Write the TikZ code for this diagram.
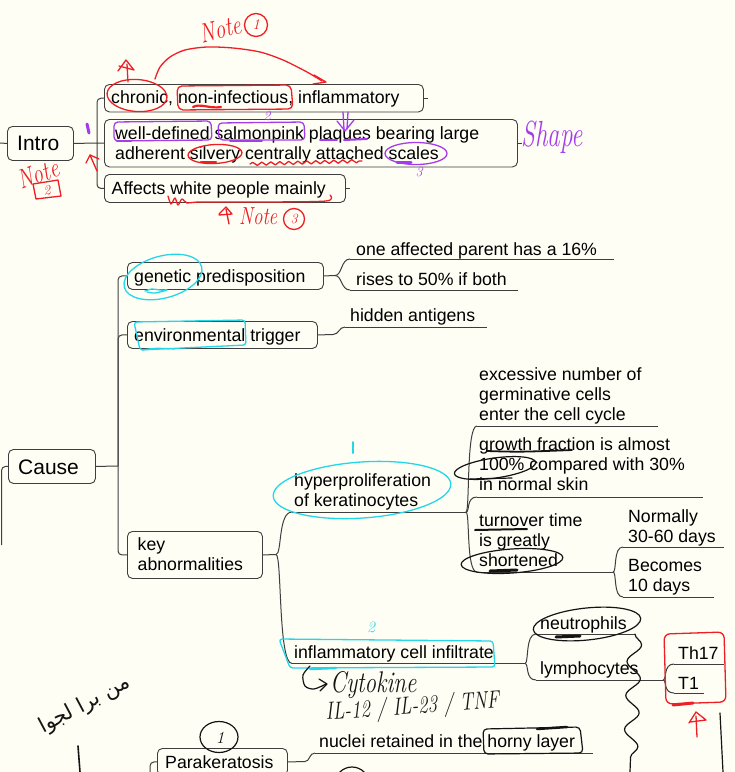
\documentclass[tikz,border=0pt]{standalone}
\usepackage{fontspec}
\usepackage{graphicx}
\usetikzlibrary{decorations.pathmorphing}
\TeXXeTstate=1
\newfontfamily\arial{Liberation Sans}
\newfontfamily\arabicfont[Script=Arabic]{DejaVu Sans}
\newcommand\bodyfont{\arial\fontsize{17.7}{20}\selectfont}
\newcommand\headfont{\arial\fontsize{21}{24}\selectfont}
\newcommand\ml[1]{\begin{tabular}[t]{@{}l@{}}#1\end{tabular}}
\newcommand\tall[1]{\scalebox{1}[1.3]{#1}}
\definecolor{paper}{RGB}{254,254,245}
\definecolor{edge}{RGB}{62,62,62}
\definecolor{inkred}{RGB}{238,30,36}
\definecolor{inkviolet}{RGB}{165,60,235}
\definecolor{inkcyan}{RGB}{35,215,235}
\definecolor{inkblack}{RGB}{20,20,20}
\tikzset{
  topicbox/.style={draw=edge, line width=0.9pt, rounded corners=5pt, fill=paper, inner sep=0, anchor=north west},
  topictext/.style={inner sep=0, anchor=base west, font=\bodyfont},
  headtext/.style={inner sep=0, anchor=base west, font=\headfont},
  link/.style={draw=edge, line width=1pt},
  elbow/.style={link, rounded corners=4pt},
  uline/.style={draw=edge, line width=1pt},
  redpen/.style={draw=inkred, line width=1.3pt, line cap=round, line join=round},
  violetpen/.style={draw=inkviolet, line width=1.3pt, line cap=round, line join=round},
  cyanpen/.style={draw=inkcyan, line width=1.3pt, line cap=round, line join=round},
  blackpen/.style={draw=inkblack, line width=1.2pt, line cap=round, line join=round},
  handtext/.style={font=\itshape\fontsize{#1}{#1}\selectfont, inner sep=0},
  ring/.style={circle, inner sep=0, minimum size=#1, line width=1.3pt},
}
\begin{document}
\begin{tikzpicture}[x=1pt,y=-1pt]
\useasboundingbox (0,0) rectangle (735,772);
\fill[paper] (0,0) rectangle (735,772);

% ---------- boxed topics ----------
\node[topicbox, minimum width=66pt, minimum height=34pt] (intro) at (7,126) {};
\node[headtext] (intro-t) at (17,150.7) {Intro};
\node[topicbox, minimum width=87pt, minimum height=34pt] (cause) at (8,449) {};
\node[headtext] (cause-t) at (18,474.3) {Cause};

\node[topicbox, minimum width=319pt, minimum height=27.5pt] (chronic) at (104,84) {};
\node[topictext] (chronic-t) at (111,103.5) {chronic, non-infectious, inflammatory};
\node[topicbox, minimum width=413pt, minimum height=47.5pt] (welldef) at (104,119) {};
\node[topictext] (welldef-t) at (115,139) {\ml{well-defined salmonpink plaques bearing large\\adherent silvery centrally attached scales}};
\node[topicbox, minimum width=241pt, minimum height=28pt] (affects) at (104,174) {};
\node[topictext] (affects-t) at (111.5,194.3) {Affects white people mainly};

\node[topicbox, minimum width=196pt, minimum height=27pt] (genetic) at (127,262) {};
\node[topictext] (genetic-t) at (134,282.7) {genetic predisposition};
\node[topicbox, minimum width=190pt, minimum height=27pt] (env) at (127,321) {};
\node[topictext] (env-t) at (134,341.7) {environmental trigger};
\node[topicbox, minimum width=135pt, minimum height=47pt] (keyab) at (127,531) {};
\node[topictext] (keyab-t) at (137.5,550.7) {\ml{key\\abnormalities}};
\node[topicbox, minimum width=130pt, minimum height=27pt] (parak) at (157,748) {};
\node[topictext] (parak-t) at (165,768) {Parakeratosis};

% ---------- underlined topics ----------
\node[topictext] (one-t) at (356,255) {one affected parent has a 16\%};
\node[topictext] (rises-t) at (356,285) {rises to 50\% if both};
\node[topictext] (hidden-t) at (350,321.7) {hidden antigens};
\node[topictext] (hyper-t) at (294,486.7) {\ml{hyperproliferation\\of keratinocytes}};
\node[topictext] (inflam-t) at (294,658.3) {inflammatory cell infiltrate};
\node[topictext] (exc-t) at (479,380) {\ml{excessive number of\\germinative cells\\enter the cell cycle}};
\node[topictext] (growth-t) at (479,450.7) {\ml{growth fraction is almost\\100\% compared with 30\%\\in normal skin}};
\node[topictext] (turn-t) at (479,526.7) {\ml{turnover time\\is greatly\\shortened}};
\node[topictext] (norm-t) at (628,522.3) {\ml{Normally\\30-60 days}};
\node[topictext] (becomes-t) at (628,571.7) {\ml{Becomes\\10 days}};
\node[topictext] (neutro-t) at (540,629.3) {neutrophils};
\node[topictext] (lympho-t) at (540,674.3) {lymphocytes};
\node[topictext] (th17-t) at (678,659.3) {Th17};
\node[topictext] (t1-t) at (678,689.3) {T1};
\node[topictext] (nuclei-t) at (319,747.3) {nuclei retained in the horny layer};

% underline end points
\coordinate (one-s) at (350,259);   \coordinate (one-e) at (614,259);
\coordinate (rises-s) at (350,290); \coordinate (rises-e) at (518,290);
\coordinate (hidden-s) at (345,327); \coordinate (hidden-e) at (487,327);
\coordinate (hyper-s) at (292,512); \coordinate (hyper-e) at (466,512);
\coordinate (inflam-s) at (292,663.5); \coordinate (inflam-e) at (525,663.5);
\coordinate (exc-s) at (477,426);   \coordinate (exc-e) at (658,426);
\coordinate (growth-s) at (477,497); \coordinate (growth-e) at (703,497);
\coordinate (turn-s) at (477,572);  \coordinate (turn-e) at (613,572);
\coordinate (norm-s) at (623,547);  \coordinate (norm-e) at (724,547);
\coordinate (becomes-s) at (623,597); \coordinate (becomes-e) at (714,597);
\coordinate (neutro-s) at (536,634); \coordinate (neutro-e) at (635,634);
\coordinate (lympho-s) at (536,680); \coordinate (lympho-e) at (663,680);
\coordinate (th17-s) at (674,664);  \coordinate (th17-e) at (724,664);
\coordinate (t1-s) at (674,693);    \coordinate (t1-e) at (704,693);
\coordinate (nuclei-s) at (315,753); \coordinate (nuclei-e) at (593,753);
\foreach \u in {one,rises,hidden,hyper,inflam,exc,growth,turn,norm,becomes,neutro,lympho,th17,t1,nuclei}
  \draw[uline] (\u-s) -- (\u-e);

% ---------- connectors ----------
\coordinate (root-top) at (0,143);
\coordinate (root-bot) at (1.5,545);
\draw[link] (root-top) -- (intro.west);
\draw[elbow] (cause.west) -| (root-bot);

\coordinate (intro-j) at (97,143);
\draw[link] (intro.east) -- (intro-j);
\draw[elbow] (intro-j) |- (chronic.west);
\draw[link] (intro-j) -- (welldef.west);
\draw[elbow] (intro-j) |- (affects.west);
\draw[link] (chronic.east) -- ++(4,0);
\draw[link] (welldef.east) -- ++(4,0);
\draw[link] (affects.east) -- ++(4,0);

\coordinate (cause-j) at (118,466);
\draw[link] (cause.east) -- (cause-j);
\draw[elbow] (cause-j) |- (genetic.west);
\draw[elbow] (cause-j) |- (env.west);
\draw[elbow] (cause-j) |- (keyab.west);

\coordinate (genetic-j) at (335,275.5);
\draw[link] (genetic.east) -- (genetic-j);
\draw[link] (genetic-j) .. controls +(7,0) and +(-9,0) .. (one-s);
\draw[link] (genetic-j) .. controls +(7,0) and +(-9,0) .. (rises-s);

\coordinate (env-j) at (333,334.5);
\draw[link] (env.east) -- (env-j);
\draw[link] (env-j) .. controls +(6,0) and +(-6,0) .. (hidden-s);

\coordinate (keyab-j) at (276,554.5);
\draw[link] (keyab.east) -- (keyab-j);
\draw[link] (keyab-j) .. controls +(6,0) and +(-14,0) .. (hyper-s);
\draw[link] (keyab-j) .. controls +(6,0) and +(-14,0) .. (inflam-s);

\draw[link] (hyper-e) .. controls +(4,0) and +(-11,0) .. (exc-s);
\draw[link] (hyper-e) .. controls +(4,0) and +(-11,0) .. (growth-s);
\draw[link] (hyper-e) .. controls +(4,0) and +(-11,0) .. (turn-s);

\draw[link] (turn-e) .. controls +(4,0) and +(-10,0) .. (norm-s);
\draw[link] (turn-e) .. controls +(4,0) and +(-10,0) .. (becomes-s);

\draw[link] (inflam-e) .. controls +(4,0) and +(-11,0) .. (neutro-s);
\draw[link] (inflam-e) .. controls +(4,0) and +(-11,0) .. (lympho-s);

\draw[link] (lympho-e) .. controls +(4,0) and +(-11,0) .. (th17-s);
\draw[link] (lympho-e) .. controls +(4,0) and +(-11,0) .. (t1-s);

\coordinate (parak-stem) at (150,785);
\draw[elbow] (parak.west) -| (parak-stem);
\coordinate (parak-j) at (305,761.5);
\draw[link] (parak.east) -- (parak-j);
\draw[link] (parak-j) .. controls +(5,0) and +(-6,0) .. (nuclei-s);

% ---------- red notes ----------
\node[handtext=21, text=inkred, rotate=14] (note1) at (220,29) {\tall{Note}};
\node[ring=23pt, draw=inkred, text=inkred, font=\itshape\fontsize{15}{15}\selectfont] (note1n) at (256,25) {1};
\draw[redpen] plot[smooth] coordinates {(155,79) (160,67) (170,57) (185,50) (207,47) (233,48) (260,52) (283,60) (307,72) (322,81)};
\draw[redpen] (314,75) -- (326,82) -- (313,84);
\draw[redpen, rotate around={-4:(137,95.5)}] (137,95.5) ellipse [x radius=30pt, y radius=16pt];
\draw[redpen, rounded corners=5pt] (177,86) -- (291,85) -- (293,109) -- (178,110) -- cycle;
\draw[redpen, line width=2.2pt] (193,107) .. controls (200,103) and (210,109) .. (221,107);
\draw[redpen] (128,82) -- (127,64);
\draw[redpen] (118,71) -- (126,60) -- (134,70) -- (119,66);
\draw[redpen] (97,171) -- (90,155);
\draw[redpen] (86,163) -- (90,155) -- (99,159);
\draw[redpen, rotate around={3:(215,154)}] (215,154) ellipse [x radius=27pt, y radius=9.5pt];
\draw[redpen, line width=2.4pt] (201,162) -- (216,162);
\draw[redpen, decorate, decoration={snake, amplitude=1.6pt, segment length=9pt}] (250,164) -- (362,161);
\node[handtext=21, text=inkred, rotate=20] (note2) at (38,174) {\tall{Note}};
\draw[redpen] (33,184) -- (58,180) -- (61,196) -- (36,199) -- cycle;
\node[handtext=14, text=inkred, rotate=10] (note2n) at (47,190) {2};
\draw[redpen] plot[smooth] coordinates {(168,196) (171,204) (175,198) (178,205) (182,199) (187,203) (200,202) (260,202) (326,201) (330,195)};
\draw[redpen] (219,214) -- (226,207) -- (232,214) -- (219,215);
\draw[redpen] (226,209) -- (229,224);
\node[handtext=19, text=inkred, anchor=base west] (note3) at (239,224) {\tall{Note}};
\node[ring=21pt, draw=inkred, text=inkred, font=\itshape\fontsize{14}{14}\selectfont] (note3n) at (294,219) {3};
\draw[redpen, rounded corners=6pt] (664,634) -- (724,632) -- (726,702) -- (666,704) -- cycle;
\draw[redpen, line width=3pt] (673,705) -- (693,703);
\draw[redpen] (697,737) -- (696,716);
\draw[redpen] (689,723) -- (696,712) -- (706,720) -- (690,722);

% ---------- violet notes ----------
\draw[violetpen, line width=3pt] (87,124) -- (89,133);
\draw[violetpen, rounded corners=4pt] (114,122) -- (211,121) -- (212,140) -- (114,141) -- cycle;
\draw[violetpen, line width=2.4pt] (117,141) -- (131,141);
\draw[violetpen, rounded corners=4pt] (218,123) -- (304,122) -- (305,140) -- (219,140) -- cycle;
\draw[violetpen, line width=2pt] (230,140.5) -- (262,140.5);
\node[handtext=14, text=inkviolet] (v2) at (267,116) {2};
\draw[violetpen] (343,112) -- (344,129);
\draw[violetpen] (348,112) -- (347,129);
\draw[violetpen] (337,121) -- (345,131) -- (354,120);
\draw[violetpen, line width=2pt] (320,140) -- (337,140);
\draw[violetpen, line width=2pt] (344,140) -- (367,139);
\draw[violetpen] (416,153.5) ellipse [x radius=31pt, y radius=11pt];
\draw[violetpen, line width=3pt] (397,162) -- (411,162);
\node[handtext=14, text=inkviolet] (v3) at (419,172) {3};
\node[handtext=25, text=inkviolet] (shape) at (552,137) {\scalebox{1}[1.45]{Shape}};

% ---------- cyan notes ----------
\draw[cyanpen, rotate around={15:(163,277)}] (163,277) ellipse [x radius=40pt, y radius=21pt];
\draw[cyanpen] plot[smooth] coordinates {(145,291) (152,289) (160,290) (167,290) (155,293) (147,292)};
\draw[cyanpen, rounded corners=3pt] (134,322) -- (245,320) -- (246,345) -- (140,350) -- cycle;
\draw[cyanpen] (142,350) .. controls (155,348) .. (175,349);
\draw[cyanpen, line width=2pt] (353,442) -- (353,453);
\draw[cyanpen, rotate around={4:(362,490)}] (362,490) ellipse [x radius=89pt, y radius=28pt];
\node[handtext=16, text=inkcyan] (c2) at (371,627) {2};
\draw[cyanpen, rounded corners=3pt] (279,639) -- (493,641) -- (495,667) -- (290,668) -- cycle;
\draw[cyanpen, line width=2.4pt] (310,669) -- (336,668);

% ---------- black notes ----------
\draw[blackpen, rotate around={8:(495,468)}] (495,468) ellipse [x radius=41pt, y radius=10pt];
\draw[blackpen] (470,479) -- (512,478);
\draw[blackpen, line width=1.8pt] (487,451) .. controls (520,452) .. (572,450);
\draw[blackpen, line width=2pt] (475,530) -- (527,529);
\draw[blackpen, rotate around={4:(512,561)}] (512,561) ellipse [x radius=51pt, y radius=12pt];
\draw[blackpen, line width=3pt] (490,571) -- (517,570);
\draw[blackpen, rotate around={6:(587,624)}] (587,624) ellipse [x radius=54pt, y radius=16pt];
\draw[blackpen, line width=3pt] (556,637) -- (580,636);
\draw[blackpen, decorate, decoration={snake, amplitude=7pt, segment length=34pt}] (635,634) -- (630,772);
\draw[blackpen] (720,713) -- (723,772);
\draw[blackpen] plot[smooth] coordinates {(310,666) (303,675) (305,686) (314,689) (326,684)};
\draw[blackpen] (319,679) -- (327,684) -- (320,691);
\node[handtext=23, text=inkblack, anchor=base west] (cyto) at (330,692) {\tall{Cytokine}};
\node[handtext=19, text=inkblack, anchor=base west, rotate=4] (ils) at (326,720) {\tall{IL-12 / IL-23 / TNF}};
\draw[blackpen, rounded corners=4pt] (483,729) -- (580,727) -- (583,753) -- (484,754) -- cycle;
\draw[blackpen, line width=2.5pt] (537,729) -- (567,727);
\draw[blackpen] (219,737) ellipse [x radius=19pt, y radius=15.5pt];
\node[handtext=17, text=inkblack] (k1) at (220,738) {1};
\draw[blackpen] (352,784) circle [radius=17pt];
\node[rotate=28, font=\arabicfont\fontsize{21}{21}\selectfont, text=inkblack, inner sep=0] (arab) at (85,705) {\beginR من برا لجوا\endR};
\draw[blackpen, line width=1.6pt] (78,746) -- (80,772);
\end{tikzpicture}
\end{document}
